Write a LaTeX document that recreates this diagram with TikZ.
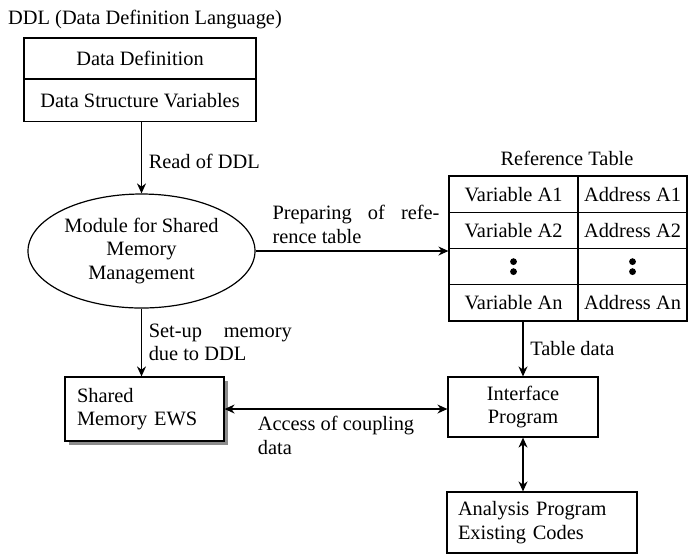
\documentclass[tikz,border=0pt]{standalone}
\usepackage{fontspec}
\setmainfont{Liberation Serif}
\usetikzlibrary{shapes.geometric,shadows,arrows.meta}

\begin{document}
\begin{tikzpicture}[x=0.5pt, y=-0.5pt, font=\fontsize{10.2}{11.8}\selectfont]
        % Define styles
        \tikzset{
            block/.style={rectangle, draw, fill=white, line width=0.6pt, inner sep=0pt},
            module/.style={ellipse, draw, line width=0.6pt, inner sep=1pt, align=center},
            cell/.style={rectangle, draw, line width=0.6pt, inner sep=0pt, minimum height=18.125pt},
            arrow/.style={->, >={Stealth[length=5pt, width=4.5pt]}, line width=0.6pt},
            darrow/.style={<->, >={Stealth[length=5pt, width=4.5pt]}, line width=0.6pt}
        }
        \useasboundingbox (0,0) rectangle (688,554);

        % DDL
        \node (ddl_title) at (145,20) {DDL (Data Definition Language)};
        \node[block, minimum width=116pt, minimum height=20.5pt] (ddl_def) at (140,58.5) {Data Definition};
        \node[block, minimum width=116pt, minimum height=21pt] (ddl_var) at (140,100.5) {Data Structure Variables};

        % Module and memory
        \node[module, minimum width=113.5pt, minimum height=57pt] (module) at (141.5,251) {Module for Shared\\Memory\\Management};
        \node[block, minimum width=79.5pt, minimum height=32pt, text width=67.5pt, align=left,
              drop shadow={shadow xshift=1.75pt, shadow yshift=-1.75pt, fill=black!45, opacity=1}] (shared) at (144.5,409) {Shared\\Memory EWS};

        % Reference table
        \node (table_title) at (567,158) {Reference Table};
        \node[cell, minimum width=64.5pt] (var_a1) at (513.5,194.125) {Variable A1};
        \node[cell, minimum width=54.5pt] (adr_a1) at (632.5,194.125) {Address A1};
        \node[cell, minimum width=64.5pt] (var_a2) at (513.5,230.375) {Variable A2};
        \node[cell, minimum width=54.5pt] (adr_a2) at (632.5,230.375) {Address A2};
        \node[cell, minimum width=64.5pt] (var_dots) at (513.5,266.625) {};
        \node[cell, minimum width=54.5pt] (adr_dots) at (632.5,266.625) {};
        \node[cell, minimum width=64.5pt] (var_an) at (513.5,302.875) {Variable An};
        \node[cell, minimum width=54.5pt] (adr_an) at (632.5,302.875) {Address An};
        \fill (var_dots.center) +(0,-5) circle (1.7pt);
        \fill (var_dots.center) +(0,5) circle (1.7pt);
        \fill (adr_dots.center) +(0,-5) circle (1.7pt);
        \fill (adr_dots.center) +(0,5) circle (1.7pt);

        % Programs
        \node[block, minimum width=75pt, minimum height=30pt, align=center] (interface) at (523,407) {Interface\\Program};
        \node[block, minimum width=95pt, minimum height=30.5pt, text width=84pt, align=left] (analysis) at (542,522.5) {Analysis Program\\Existing Codes};

        % Arrows
        \draw[arrow] (ddl_var.south -| module.north) -- (module.north) node[midway, right, yshift=-2pt] {Read of DDL};
        \draw[arrow] (module.east) -- (module.east -| var_dots.west) node[midway, above, xshift=2pt, text width=83.5pt, align=justify] {Preparing of refe-\linebreak rence table};
        \draw[arrow] (module.south) -- (module.south |- shared.north) node[midway, right, text width=71.5pt, align=justify] {Set-up memory\linebreak due to DDL};
        \draw[arrow] (interface.north |- var_an.south) -- (interface.north) node[midway, right] {Table data};
        \draw[darrow] (shared.east) -- (shared.east -| interface.west) node[midway, below, align=left] {Access of coupling\\data};
        \draw[darrow] (interface.south) -- (interface.south |- analysis.north);
    \end{tikzpicture}
\end{document}
